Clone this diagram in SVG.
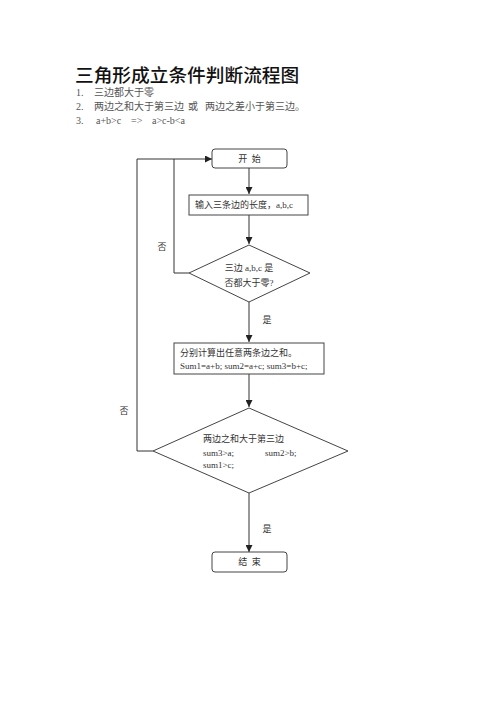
<svg xmlns="http://www.w3.org/2000/svg" width="500" height="708" viewBox="0 0 500 708">
<defs>
<marker id="arr" viewBox="0 0 10 10" refX="10" refY="5" markerWidth="7" markerHeight="7" orient="auto" markerUnits="userSpaceOnUse">
<path d="M0,0 L10,5 L0,10 z" fill="#222"/>
</marker>
<style>
.box{fill:#fff;stroke:#444;stroke-width:1}
.ln{fill:none;stroke:#333;stroke-width:1}
.t{font-family:"Liberation Serif","Noto Sans CJK SC",serif;fill:#333;font-size:9px}
.lst{font-family:"Liberation Serif","Noto Sans CJK SC",serif;fill:#555;font-size:10px}
.title{font-family:"Noto Sans CJK SC",sans-serif;fill:#111;font-size:18.7px;font-weight:500}
</style>
</defs>
<rect width="500" height="708" fill="#fff"/>
<g id="heading">
<text class="title" x="75" y="82">三角形成立条件判断流程图</text>
<text class="lst" x="76" y="96">1.</text>
<text class="lst" x="94" y="96">三边都大于零</text>
<text class="lst" x="76" y="110">2.</text>
<text class="lst" x="94" y="110">两边之和大于第三边</text>
<text class="lst" x="188" y="110">或</text>
<text class="lst" x="205" y="110">两边之差小于第三边。</text>
<text class="lst" x="76" y="124">3.</text>
<text class="lst" x="96" y="124">a+b&gt;c</text>
<text class="lst" x="131" y="124">=&gt;</text>
<text class="lst" x="152" y="124">a&gt;c-b&lt;a</text>
</g>
<g id="connectors">
<line class="ln" x1="249" y1="168" x2="249" y2="194" marker-end="url(#arr)"/>
<line class="ln" x1="249" y1="215" x2="249" y2="244" marker-end="url(#arr)"/>
<line class="ln" x1="249" y1="302" x2="249" y2="342" marker-end="url(#arr)"/>
<line class="ln" x1="249" y1="374" x2="249" y2="407" marker-end="url(#arr)"/>
<line class="ln" x1="249" y1="493" x2="249" y2="552" marker-end="url(#arr)"/>
<polyline class="ln" points="189,273 174,273 174,159"/>
<polyline class="ln" points="153,451 137,451 137,159 212,159" marker-end="url(#arr)"/>
<text class="t" x="162" y="250" text-anchor="middle" font-size="8.5">否</text>
<text class="t" x="267" y="323" text-anchor="middle" font-size="8.5">是</text>
<text class="t" x="124" y="414" text-anchor="middle" font-size="8.5">否</text>
<text class="t" x="267" y="532" text-anchor="middle" font-size="8.5">是</text>
</g>
<g id="start">
<rect class="box" x="212" y="149" width="75" height="19" rx="3"/>
<text class="t" x="249.5" y="162" text-anchor="middle" font-size="9.5" xml:space="preserve">开  始</text>
</g>
<g id="input">
<rect class="box" x="189" y="195" width="119" height="20"/>
<text class="t" x="195" y="208">输入三条边的长度，a,b,c</text>
</g>
<g id="check-positive">
<polygon class="box" points="249,245 310,273 249,302 189,273"/>
<text class="t" x="249" y="271" text-anchor="middle">三边 a,b,c 是</text>
<text class="t" x="249" y="286" text-anchor="middle">否都大于零?</text>
</g>
<g id="sums">
<rect class="box" x="174" y="343" width="150" height="31"/>
<text class="t" x="180" y="356">分别计算出任意两条边之和。</text>
<text class="t" x="180" y="369">Sum1=a+b; sum2=a+c; sum3=b+c;</text>
</g>
<g id="check-triangle">
<polygon class="box" points="249,408 348,451 249,493 153,451"/>
<text class="t" x="203" y="442" font-size="10.5">两边之和大于第三边</text>
<text class="t" x="203" y="456" font-size="8.5">sum3&gt;a;</text>
<text class="t" x="265" y="456" font-size="8.5">sum2&gt;b;</text>
<text class="t" x="203" y="468" font-size="8.5">sum1&gt;c;</text>
</g>
<g id="end">
<rect class="box" x="212" y="552" width="75" height="20" rx="3"/>
<text class="t" x="249.5" y="565" text-anchor="middle" font-size="9.5" xml:space="preserve">结  束</text>
</g>
</svg>
